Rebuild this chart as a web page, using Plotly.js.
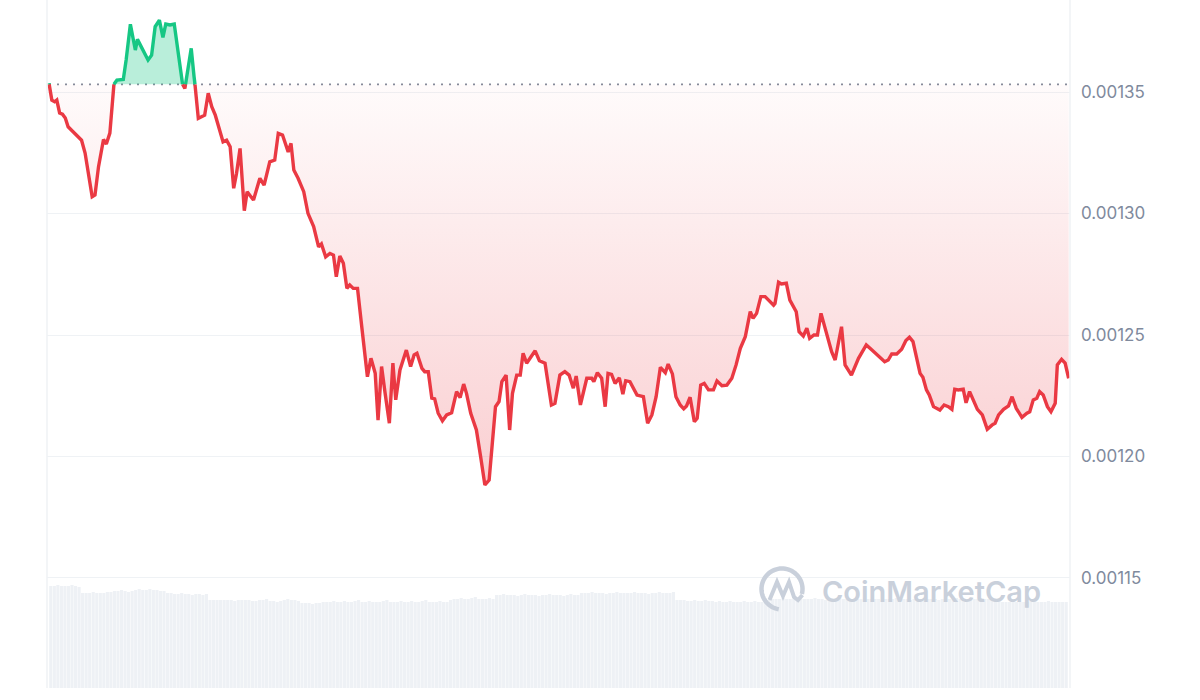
<!DOCTYPE html>
<html>
<head>
<meta charset="utf-8">
<script src="https://cdn.plot.ly/plotly-3.0.1.min.js"></script>
<style>html,body{margin:0;padding:0;background:#fff;}#chart{width:1200px;height:700px;}</style>
</head>
<body>
<div id="chart"></div>
<script>
// time in minutes from start of the 24h window
const times = [0,4,8,11,15,19,23,27,34,46,51,56,61,65,70,77,81,86,91,96,105,109,115,122,125,133,140,145,150,156,161,165,171,177,181,185,188,192,197,201,205,209,211,220,225,230,235,246,251,256,261,265,270,276,280,289,298,304,312,319,324,330,338,342,346,352,
360,366,374,381,385,391,397,402,406,411,416,421,425,430,436,442,447,450,455,461,465,470,475,481,486,490,496,502,505,511,516,520,527,531,536,541,545,550,556,562,569,576,581,586,590,596,604,610,616,622,626,631,636,640,646,651,655,661,666,670,675,687,693,701,710,715,722,
729,735,741,745,751,760,767,770,775,781,786,790,795,800,806,811,815,821,831,840,846,852,858,864,871,875,881,886,892,897,901,906,912,916,921,926,932,939,944,951,958,965,971,977,984,991,995,1000,1006,1012,1019,1024,1026,1031,1035,1042,1047,1056,1060,1066,1071,1075,1081,1086,1091,
1099,1106,1111,1120,1125,1134,1144,1155,1163,1172,1181,1186,1191,1198,1205,1211,1216,1221,1226,1231,1235,1240,1244,1250,1259,1265,1271,1276,1280,1285,1292,1296,1301,1307,1312,1319,1326,1333,1337,1342,1349,1356,1361,1367,1375,1382,1386,1391,1396,1400,1405,1411,1416,1422,1425,1431,1436,1441];

const prices = [0.0013536,0.0013467,0.0013460,0.0013467,0.0013414,0.0013409,0.0013393,0.0013357,0.0013337,0.0013302,
0.0013249,0.0013167,0.0013069,0.0013076,0.0013193,0.0013305,0.0013286,0.0013331,0.0013529,0.0013549,
0.0013552,0.0013632,0.0013779,0.0013673,0.0013717,0.0013673,0.0013632,0.0013652,0.0013769,0.0013796,
0.0013725,0.0013780,0.0013776,0.0013780,0.0013700,0.0013604,0.0013536,0.0013515,0.0013604,0.0013680,
0.0013563,0.0013467,0.0013392,0.0013405,0.0013495,0.0013440,0.0013405,0.0013295,0.0013302,0.0013275,
0.0013104,0.0013165,0.0013268,0.0013012,0.0013090,0.0013056,0.0013145,0.0013117,0.0013213,0.0013220,
0.0013330,0.0013323,0.0013254,0.0013289,0.0013179,0.0013145,
0.0013090,0.0013001,0.0012946,0.0012863,0.0012875,0.0012822,0.0012836,0.0012829,0.0012740,0.0012825,
0.0012795,0.0012692,0.0012706,0.0012692,0.0012692,0.0012534,0.0012411,0.0012328,0.0012404,0.0012342,
0.0012150,0.0012370,0.0012260,0.0012137,0.0012384,0.0012233,0.0012356,0.0012418,0.0012438,0.0012370,
0.0012418,0.0012425,0.0012363,0.0012349,0.0012349,0.0012240,0.0012237,0.0012178,0.0012147,0.0012171,
0.0012180,0.0012267,0.0012242,0.0012298,0.0012260,0.0012178,0.0012109,0.0011999,0.0011883,0.0011903,
0.0012040,0.0012205,0.0012226,0.0012308,0.0012335,0.0012109,0.0012260,0.0012335,0.0012335,0.0012425,
0.0012384,0.0012435,0.0012394,0.0012384,0.0012212,0.0012219,0.0012335,
0.0012349,0.0012335,0.0012281,0.0012331,0.0012212,0.0012322,0.0012322,0.0012308,0.0012345,0.0012322,
0.0012205,0.0012342,0.0012338,0.0012301,0.0012324,0.0012257,0.0012312,0.0012308,0.0012253,0.0012246,
0.0012137,0.0012171,0.0012246,0.0012367,0.0012345,0.0012380,0.0012340,0.0012246,0.0012212,0.0012196,
0.0012208,0.0012244,0.0012143,0.0012157,0.0012294,0.0012301,0.0012274,0.0012274,0.0012311,0.0012291,
0.0012294,0.0012322,0.0012377,0.0012445,0.0012493,0.0012596,0.0012569,0.0012589,0.0012658,0.0012658,
0.0012637,0.0012623,0.0012630,0.0012717,0.0012710,0.0012713,0.0012644,0.0012596,0.0012514,0.0012496,
0.0012528,0.0012486,0.0012500,0.0012500,0.0012589,
0.0012507,0.0012431,0.0012397,0.0012534,0.0012377,0.0012335,0.0012404,0.0012459,0.0012438,0.0012414,
0.0012390,0.0012397,0.0012422,0.0012422,0.0012441,0.0012477,0.0012491,0.0012473,0.0012411,0.0012342,
0.0012326,0.0012274,0.0012253,0.0012205,0.0012191,0.0012212,0.0012205,0.0012194,0.0012277,0.0012274,
0.0012277,0.0012221,0.0012267,0.0012226,0.0012194,0.0012171,0.0012112,0.0012130,0.0012137,0.0012171,
0.0012194,0.0012208,0.0012246,0.0012198,0.0012161,0.0012178,0.0012184,0.0012233,0.0012240,0.0012267,
0.0012253,0.0012205,0.0012184,0.0012219,0.0012377,0.0012400,0.0012384,0.0012322];

const openPrice = 0.0013532;

// volume per 5-minute interval (thousands)
const volume = [102,102,103,102,102,102,103,102,101,
95,95,95,96,95,95,95,96,96,
97,97,98,97,96,97,
98,99,98,98,99,98,98,97,97,
95,95,94,94,95,94,94,93,94,94,93,94,
88,88,88,88,88,88,88,87,88,88,88,88,
87,87,88,88,89,87,87,86,87,
88,89,88,88,87,
85,85,85,84,85,85,86,
86,86,87,86,86,87,86,86,87,88,86,86,87,86,86,86,87,88,86,86,86,87,86,86,87,86,86,87,88,86,86,86,87,86,86,
88,89,89,90,89,89,90,91,89,89,89,90,89,
93,93,94,93,93,93,92,93,94,93,93,93,92,93,93,94,93,93,93,92,93,94,93,93,
95,95,95,96,95,95,95,94,95,95,96,95,95,95,95,96,95,95,95,94,95,95,96,95,95,95,96,
88,88,88,87,87,88,87,87,88,87,87,86,87,86,86,87,86,86,86,87,86,86,87,86,86,86,
88,89,89,89,90,89,89,89,88,89,89,89,89,90,89,89,88,89,89,89,90,89,89,89,88,89,89,90,89,89,89,89,88,89,89,89,90,89,89,89,88,89,89,89,90,89,89,89,88,89,89,89,89,90,89,89,88,89,89,89,90,89,89,89,88,89,
86,86,86,87,86,86,86,86,87,86,86,86,86,87,86,86,86,86,86];
const volInterval = 5;

const tickVals = [0.00115,0.00120,0.00125,0.00130,0.00135];
const tickText = ['0.00115','0.00120','0.00125','0.00130','0.00135'];

const RED = '#ea3943', GREEN = '#16c784';

// insert exact crossing points of the open-price line for the two colours
const X = [], Y = [];
for (let i = 0; i < times.length; i++) {
  X.push(times[i]); Y.push(prices[i]);
  if (i < times.length - 1 && (prices[i]-openPrice)*(prices[i+1]-openPrice) < 0) {
    const f = (openPrice - prices[i]) / (prices[i+1] - prices[i]);
    X.push(times[i] + f*(times[i+1]-times[i])); Y.push(openPrice);
  }
}
const redY = Y.map(v => v <= openPrice ? v : null);
const greenY = Y.map(v => v >= openPrice ? v : null);
const lowY = Y.map(v => Math.min(v, openPrice));
const highY = Y.map(v => Math.max(v, openPrice));
const xEnds = [X[0], X[X.length-1]];
const minPrice = Math.min(...prices);

const volX = volume.map((_, k) => volInterval*k + volInterval/2);

const traces = [
  {x: volX, y: volume, type: 'bar', yaxis: 'y2', marker: {color: '#eef1f5', line: {width: 0}}, hoverinfo: 'skip', showlegend: false},
  {x: xEnds, y: [openPrice, openPrice], mode: 'lines', line: {color: '#858c9b', width: 1.8, dash: '2px,6px'}, hoverinfo: 'skip', showlegend: false},
  {x: xEnds, y: [openPrice, openPrice], mode: 'lines', line: {width: 0}, hoverinfo: 'skip', showlegend: false},
  {x: X, y: lowY, mode: 'none', fill: 'tonexty',
   fillgradient: {type: 'vertical', start: minPrice, stop: openPrice,
     colorscale: [[0, 'rgba(234,57,67,0.24)'], [1, 'rgba(234,57,67,0.02)']]},
   hoverinfo: 'skip', showlegend: false},
  {x: xEnds, y: [openPrice, openPrice], mode: 'lines', line: {width: 0}, hoverinfo: 'skip', showlegend: false},
  {x: X, y: highY, mode: 'none', fill: 'tonexty', fillcolor: 'rgba(22,199,132,0.3)', hoverinfo: 'skip', showlegend: false},
  {x: X, y: redY, mode: 'lines', line: {color: RED, width: 3.4, shape: 'linear'}, connectgaps: false, showlegend: false},
  {x: X, y: greenY, mode: 'lines', line: {color: GREEN, width: 3.4, shape: 'linear'}, connectgaps: false, showlegend: false}
];

// plot area geometry (for the watermark)
const L = 47, R = 1070, T = 0, B = 688;
const px = x => (x - L) / (R - L);
const py = y => (B - y) / (B - T);
function pathFrom(pts) { return pts.map((p, i) => (i ? 'L' : 'M') + px(p[0]).toFixed(5) + ',' + py(p[1]).toFixed(5)).join(' '); }
const cx = 782, cy = 589, r = 20.5;
const arc = [];
for (let a = -14; a <= 265; a += 5) { const t = a*Math.PI/180; arc.push([cx + r*Math.cos(t), cy - r*Math.sin(t)]); }
const mPts = [[769.5,600],[777,582],[783,596],[789,582],[794,597],[798,600],[802.5,595]];
const WM = '#c9d0db';

const layout = {
  width: 1200, height: 700,
  margin: {l: L, r: 1200 - R, t: T, b: 700 - B},
  paper_bgcolor: '#ffffff', plot_bgcolor: '#ffffff',
  showlegend: false, bargap: 0.12,
  xaxis: {range: [-2.83, 1442.9], visible: false, fixedrange: true},
  yaxis: {side: 'right', range: [0.0011047, 0.0013879], tickmode: 'array', tickvals: tickVals, ticktext: tickText,
    showgrid: true, gridcolor: '#eff2f5', gridwidth: 1, zeroline: false, showline: false, ticks: '', ticklabelstandoff: 10,
    tickfont: {family: 'Inter, Roboto, "DejaVu Sans", sans-serif', size: 17, color: '#808a9d'}, fixedrange: true},
  yaxis2: {overlaying: 'y', range: [0, 688], visible: false, fixedrange: true},
  shapes: [
    {type: 'line', xref: 'paper', yref: 'paper', x0: 0, x1: 0, y0: 0, y1: 1, line: {color: '#eff2f5', width: 1.5}},
    {type: 'line', xref: 'paper', yref: 'paper', x0: 1, x1: 1, y0: 0, y1: 1, line: {color: '#eff2f5', width: 1.5}},
    {type: 'path', xref: 'paper', yref: 'paper', path: pathFrom(arc), line: {color: WM, width: 4.5}, layer: 'above'},
    {type: 'path', xref: 'paper', yref: 'paper', path: pathFrom(mPts), line: {color: WM, width: 4}, layer: 'above'}
  ],
  annotations: [
    {xref: 'paper', yref: 'paper', x: px(820), y: py(591), xanchor: 'left', yanchor: 'middle', showarrow: false,
     text: 'CoinMarketCap', font: {family: 'Inter, Roboto, sans-serif', size: 29, weight: 600, color: WM}}
  ]
};

Plotly.newPlot('chart', traces, layout, {displayModeBar: false, staticPlot: true});
</script>
</body>
</html>
